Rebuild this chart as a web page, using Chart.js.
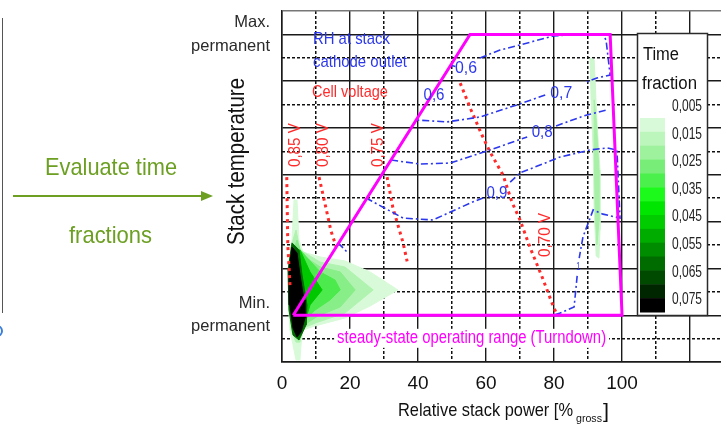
<!DOCTYPE html>
<html lang="en">
<head>
<meta charset="UTF-8">
<title>Time fractions over the stack operating range</title>
<script src="https://cdn.jsdelivr.net/npm/chart.js"></script>
<style>
    body { margin: 0; background: #fff; }
    #wrap { width: 721px; height: 425px; }
</style>
</head>
<body>
<div id="wrap"><canvas id="rangeChart" width="721" height="425"></canvas></div>
<script>
const FONT = "'Liberation Sans', Arial, sans-serif";
const BLUE = '#2c38ec';
const RED = '#ff2b2b';
const MAGENTA = '#ff00ff';
const GREEN_TEXT = '#6c9f22';

// axes
const xTicks = [0, 10, 20, 30, 40, 50, 60, 70, 80, 90, 100, 110, 120];
const xTickLabels = [0, 20, 40, 60, 80, 100];
const yTicks = [0, 1, 2, 3, 4, 5, 6, 7, 8, 9, 10, 11, 12, 13, 14, 15];
const yTickLabels = { 14: ['Max.', 'permanent'], 2: ['Min.', 'permanent'] };

// steady-state operating range (power %, temperature level)
const operatingRange = [[3.3, 2], [55.3, 14], [96.5, 14], [100, 2], [3.3, 2]];

// RH at stack cathode outlet (null = gap for the label)
const rh06 = [[49.4, 12.69], [51.0, 12.63], null, [58.2, 12.99], [64.1, 13.33], [70.0, 13.55], [79.7, 13.93],
    [87.6, 14.02], [94.4, 13.97], [95.3, 13.76], [96.5, 12.26], [92.6, 12.14], [89.7, 11.97], null,
    [77.4, 11.41], [70.0, 11.03], [58.2, 10.47], [48.5, 10.26], [39.7, 10.34]];
const rh08 = [[32.1, 8.63], [40.6, 8.46], [49.4, 8.50], [61.2, 9.06], [72.1, 9.62], null,
    [80.6, 10.09], [89.7, 10.56], [95.6, 10.77]];
const rh09 = [[24.7, 7.01], [35.6, 6.15], [44.4, 6.07], [55.3, 6.79], [59.1, 7.01], null,
    [67.1, 7.69], [70.0, 8.08], [81.8, 8.76], [90.6, 9.06], [95.6, 9.15], [98.5, 9.06], [99.4, 6.15],
    [94.4, 6.32], [91.5, 6.50], [88.5, 5.34], [87.4, 4.44], null, [86.8, 3.68], [85.9, 2.35],
    [81.8, 2.09], [79.7, 2.0]];
const rh10 = [[16.5, 5.09], [19.4, 4.66]];

// cell voltage
const v085 = [[1.4, 7.9], [1.7, 5.0], [2.4, 3.2]];
const v080 = [[10.9, 7.9], [12.9, 6.6], [14.4, 5.6], [16.0, 4.9]];
const v075 = [[30.9, 7.9], [32.6, 6.6], [35.6, 5.1], [36.8, 4.3]];
const v070 = [[52.4, 11.92], [55.6, 10.77], [58.8, 9.70], [61.2, 8.97], [65.0, 7.99], [67.6, 6.84],
    [70.0, 6.07], [72.9, 4.91], [76.5, 3.63], [79.4, 2.52], [80.9, 2.0]];

// time fraction contours (outer to inner)
const tf005 = [[3.53, 6.92], [4.41, 6.92], [5.0, 5.21], [6.18, 4.70], [11.2, 4.49], [18.5, 4.32], [25.9, 3.85],
    [34.1, 3.08], [25.9, 2.39], [18.5, 1.88], [9.71, 1.54], [6.18, 1.37], [5.59, 0.73], [5.29, 0.09],
    [4.12, 0.09], [3.24, 0.73], [2.35, 1.37], [1.76, 2.65], [2.06, 4.36], [2.94, 5.21]];
const tf015 = [[4.12, 5.64], [5.29, 4.79], [11.2, 4.27], [18.5, 4.06], [26.8, 3.08], [18.5, 2.09], [10.6, 1.71],
    [6.18, 1.45], [5.29, 0.85], [4.12, 0.85], [2.65, 1.37], [2.06, 2.65], [2.35, 4.36], [3.24, 5.21]];
const tf025 = [[4.41, 5.21], [5.88, 4.57], [11.2, 4.06], [17.1, 3.85], [21.5, 3.08], [17.1, 2.35], [10.6, 1.97],
    [6.47, 1.58], [4.71, 1.03], [2.94, 1.37], [2.35, 2.65], [2.65, 4.36]];
const tf035 = [[5.29, 4.79], [11.2, 3.85], [15.6, 3.50], [17.1, 3.08], [14.1, 2.65], [9.71, 2.22], [6.76, 1.79],
    [5.0, 1.07], [2.65, 1.79], [2.35, 3.50]];
const tf045 = [[5.29, 4.79], [8.24, 3.85], [11.8, 3.08], [8.24, 2.44], [6.47, 1.58], [4.71, 1.03], [2.35, 2.65],
    [2.65, 4.57]];
const tf060 = [[2.94, 5.09], [5.0, 4.79], [5.88, 3.72], [7.35, 2.44], [7.06, 1.58], [5.0, 0.94], [3.24, 1.15],
    [2.06, 2.22], [1.76, 3.93]];
const tf075 = [[2.94, 4.91], [4.41, 4.66], [5.29, 3.72], [6.47, 2.65], [6.76, 1.88], [5.59, 1.28], [4.41, 1.07],
    [3.24, 1.45], [2.35, 2.44], [2.06, 3.93]];
const tfHighPower = [[90.6, 12.99], [91.8, 12.91], [92.6, 10.34], [93.5, 8.21], [93.5, 5.64], [93.2, 4.44],
    [92.4, 4.53], [91.8, 6.50], [91.5, 9.06], [90.9, 11.2]];
const tfHighPowerCore = [[91.8, 11.2], [92.4, 10.34], [93.2, 8.21], [93.2, 6.0], [92.6, 5.0], [92.1, 6.5],
    [91.8, 9.06]];

// colour bar
const tfColors = ['#d8fad8', '#bcf6bc', '#9ef29e', '#78ee78', '#4cf04c', '#1cfa1c', '#00e600', '#00cc00',
    '#00ac00', '#008c00', '#006c00', '#004a00', '#002600', '#000000'];
const tfLabels = ['0,005', '0,015', '0,025', '0,035', '0,045', '0,055', '0,065', '0,075'];

function splitSegments(pts) {
    const out = [[]];
    pts.forEach(p => p ? out[out.length - 1].push({ x: p[0], y: p[1] }) : out.push([]));
    return out.filter(s => s.length > 1);
}

const datasets = [];
function addLine(pts, style, order) {
    splitSegments(pts).forEach(seg => datasets.push(Object.assign({ data: seg, fill: false, order }, style)));
}
function addArea(pts, color, order) {
    const data = pts.concat([pts[0]]).map(p => ({ x: p[0], y: p[1] }));
    datasets.push({ data, fill: 'shape', backgroundColor: color, borderColor: color, borderWidth: 1, order });
}

addArea(tf005, '#d8fad8', 30);
addArea(tf015, '#b0f3b0', 29);
addArea(tf025, '#88ee88', 28);
addArea(tf035, '#4cea4c', 27);
addArea(tf045, '#00c800', 26);
addArea(tf060, '#006800', 25);
addArea(tf075, '#000000', 24);
addArea(tfHighPower, '#cdf7cd', 23);
addArea(tfHighPowerCore, '#a8f0a8', 22);

const redStyle = { borderColor: RED, borderWidth: 3, borderDash: [3, 4] };
[v085, v080, v075, v070].forEach(v => addLine(v, redStyle, 10));
const blueStyle = { borderColor: BLUE, borderWidth: 1.6, borderDash: [7, 3, 2, 3] };
[rh06, rh08, rh09, rh10].forEach(r => addLine(r, blueStyle, 5));
addLine(operatingRange, { borderColor: MAGENTA, borderWidth: 3 }, 1);

// labels placed in data coordinates
const notes = [
    { text: '0,6', x: 54.1, y: 12.37, w: 22, size: 16, color: BLUE },
    { text: '0,6', x: 44.7, y: 11.2, w: 21, size: 16, color: BLUE },
    { text: '0,7', x: 82.1, y: 11.29, w: 22, size: 16, color: BLUE },
    { text: '0,8', x: 76.5, y: 9.62, w: 21, size: 16, color: BLUE },
    { text: '0,9', x: 63.2, y: 7.01, w: 21, size: 16, color: BLUE },
    { text: '1', x: 87.1, y: 3.93, w: 4, size: 10, color: BLUE },
    { text: '0,85 V', x: 5.3, y: 9.27, w: 44, size: 17, color: RED, rot: true },
    { text: '0,80 V', x: 13.5, y: 9.27, w: 44, size: 17, color: RED, rot: true },
    { text: '0,75 V', x: 29.7, y: 9.27, w: 44, size: 17, color: RED, rot: true },
    { text: '0,70 V', x: 78.8, y: 5.43, w: 44, size: 17, color: RED, rot: true },
    { text: 'RH at stack', x: 9.1, y: 13.59, w: 77, size: 17, color: BLUE, align: 'left' },
    { text: 'cathode outlet', x: 9.1, y: 12.61, w: 94, size: 17, color: BLUE, align: 'left' },
    { text: 'Cell voltage', x: 8.8, y: 11.32, w: 76, size: 17, color: RED, align: 'left' }
];

function fitText(ctx, text, x, y, w, size, color, align, rot) {
    ctx.save();
    ctx.font = size + 'px ' + FONT;
    const k = w / ctx.measureText(text).width;
    ctx.translate(x, y);
    if (rot) ctx.rotate(-Math.PI / 2);
    ctx.scale(k, 1);
    ctx.fillStyle = color;
    ctx.textAlign = align || 'center';
    ctx.textBaseline = 'alphabetic';
    ctx.fillText(text, 0, 0);
    ctx.restore();
}

const figureText = {
    id: 'figureText',
    afterDatasetsDraw(chart) {
        const { ctx } = chart;
        const X = v => chart.scales.x.getPixelForValue(v);
        const Y = v => chart.scales.y.getPixelForValue(v);
        notes.forEach(n => fitText(ctx, n.text, X(n.x), Y(n.y), n.w, n.size, n.color, n.align, n.rot));

        // turndown caption on a white patch
        const tx = X(16.2), ty = Y(0.82);
        ctx.save();
        ctx.fillStyle = '#fff';
        ctx.fillRect(tx - 3, ty - 14, 275, 19);
        ctx.restore();
        fitText(ctx, 'steady-state operating range (Turndown)', tx, ty, 269, 17.5, MAGENTA, 'left');
    },
    afterDraw(chart) {
        const { ctx } = chart;

        // colour bar legend
        ctx.save();
        ctx.fillStyle = '#fff';
        ctx.fillRect(637.5, 33.5, 70, 282);
        ctx.strokeStyle = '#2a2a2a';
        ctx.lineWidth = 1.5;
        ctx.strokeRect(637.5, 33.5, 70, 282);
        const bandH = 194 / tfColors.length;
        tfColors.forEach((c, i) => {
            ctx.fillStyle = c;
            ctx.fillRect(640, 118 + i * bandH, 25, bandH + 0.5);
        });
        ctx.restore();
        fitText(ctx, 'Time', 643, 60, 36, 18, '#111', 'left');
        fitText(ctx, 'fraction', 642, 89, 55, 18, '#111', 'left');
        tfLabels.forEach((t, i) => fitText(ctx, t, 702, 111 + i * 27.6, 30, 16.5, '#222', 'right'));

        // axis titles
        fitText(ctx, 'Stack temperature', 243.5, 161.5, 167, 23, '#111', 'center', true);
        fitText(ctx, 'Relative stack power [%', 398, 416, 175, 19, '#111', 'left');
        fitText(ctx, 'gross', 576, 422, 26, 11, '#111', 'left');
        fitText(ctx, ']', 603, 418, 6, 21, '#111', 'left');

        // left: arrow from the previous panel
        ctx.save();
        ctx.strokeStyle = '#555';
        ctx.lineWidth = 1;
        ctx.beginPath();
        ctx.moveTo(2.5, 18);
        ctx.lineTo(2.5, 313);
        ctx.stroke();
        ctx.strokeStyle = '#3b7dd8';
        ctx.lineWidth = 2;
        ctx.beginPath();
        ctx.arc(-3, 331, 5, 0, Math.PI * 2);
        ctx.stroke();
        ctx.strokeStyle = GREEN_TEXT;
        ctx.fillStyle = GREEN_TEXT;
        ctx.lineWidth = 2;
        ctx.beginPath();
        ctx.moveTo(13, 196);
        ctx.lineTo(204, 196);
        ctx.stroke();
        ctx.beginPath();
        ctx.moveTo(213, 196);
        ctx.lineTo(201, 191);
        ctx.lineTo(201, 201);
        ctx.closePath();
        ctx.fill();
        ctx.restore();
        fitText(ctx, 'Evaluate time', 111, 175, 132, 24, GREEN_TEXT, 'center');
        fitText(ctx, 'fractions', 110.5, 243, 83, 24, GREEN_TEXT, 'center');
    }
};

const setTicks = list => scale => { scale.ticks = list.map(v => ({ value: v })); };
const noPad = s => { s.paddingTop = 0; s.paddingBottom = 0; s.paddingLeft = 0; s.paddingRight = 0; };
const clear = 'rgba(0,0,0,0)';

new Chart(document.getElementById('rangeChart'), {
    type: 'line',
    data: { datasets },
    options: {
        responsive: false,
        animation: false,
        layout: { padding: { top: 11, right: 0, bottom: 0, left: 0 } },
        elements: { point: { radius: 0 }, line: { tension: 0 } },
        plugins: { legend: { display: false }, tooltip: { enabled: false } },
        scales: {
            x: {
                type: 'linear', position: 'bottom', min: 0, max: 129.1,
                afterBuildTicks: setTicks(xTicks),
                afterFit: s => { s.height = 63; noPad(s); },
                grid: { color: c => c.tick && c.tick.value % 20 === 0 ? '#1a1a1a' : clear, lineWidth: 1.4, drawTicks: false },
                border: { color: '#1a1a1a', width: 1.5 },
                ticks: {
                    autoSkip: false, maxRotation: 0, padding: 10, color: '#111',
                    font: { family: FONT, size: 19 },
                    callback: v => xTickLabels.includes(v) ? String(v) : ''
                }
            },
            xMinor: {
                type: 'linear', position: 'bottom', min: 0, max: 129.1,
                afterBuildTicks: setTicks(xTicks),
                afterFit: s => { s.height = 0; noPad(s); },
                grid: { color: c => c.tick && c.tick.value % 20 === 10 ? '#111' : clear, lineWidth: 1.5, drawTicks: false },
                border: { display: false, dash: [3, 2] },
                ticks: { display: false }
            },
            y: {
                type: 'linear', position: 'left', min: 0, max: 15,
                afterBuildTicks: setTicks(yTicks),
                afterFit: s => { s.width = 282; noPad(s); },
                grid: {
                    color: c => !c.tick ? clear : c.tick.value === 15 ? '#777' : c.tick.value % 2 === 0 ? '#1a1a1a' : clear,
                    lineWidth: 1.4, drawTicks: false
                },
                border: { color: '#1a1a1a', width: 1.5 },
                ticks: {
                    autoSkip: false, padding: 12, color: '#2a2a2a',
                    font: { family: FONT, size: 16.5, lineHeight: 1.42 },
                    callback: v => yTickLabels[v] || ''
                }
            },
            yMinor: {
                type: 'linear', position: 'left', min: 0, max: 15,
                afterBuildTicks: setTicks(yTicks),
                afterFit: s => { s.width = 0; noPad(s); },
                grid: { color: c => c.tick && c.tick.value % 2 === 1 && c.tick.value !== 15 ? '#111' : clear, lineWidth: 1.5, drawTicks: false },
                border: { display: false, dash: [3, 2] },
                ticks: { display: false }
            }
        }
    },
    plugins: [figureText]
});
</script>
</body>
</html>
